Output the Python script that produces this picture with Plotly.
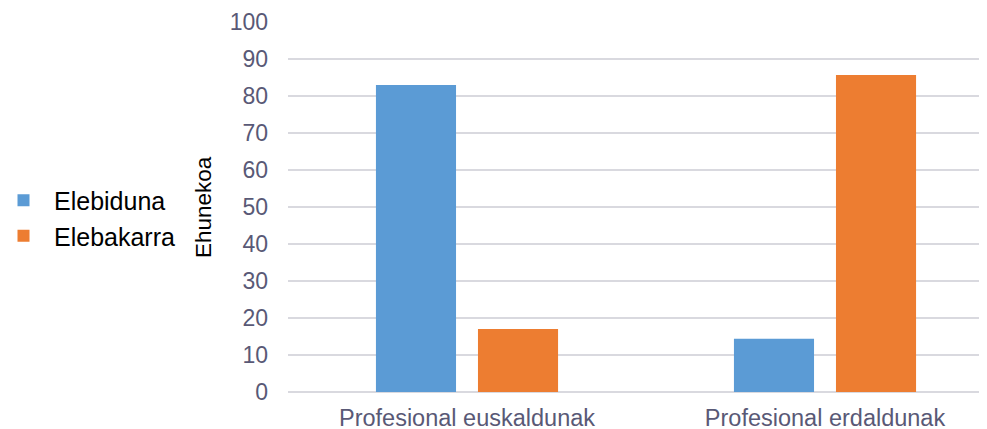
import plotly.graph_objects as go

categories = ["Profesional euskaldunak", "Profesional erdaldunak"]
series_names = ["Elebiduna", "Elebakarra"]
elebiduna = [83.0, 14.4]
elebakarra = [17.0, 85.7]
y_ticks = [0, 10, 20, 30, 40, 50, 60, 70, 80, 90, 100]
y_title = "Ehunekoa"

colors = ["#5B9BD5", "#ED7D31"]
tick_color = "#595976"
grid_color = "#D9D9DF"
FONT = "Liberation Sans, Arial, sans-serif"

fig = go.Figure()
for name, vals, col in zip(series_names, [elebiduna, elebakarra], colors):
    fig.add_trace(go.Bar(x=categories, y=vals, name=name, marker=dict(color=col, line=dict(width=0))))

# page body has an 8px offset
OFF = 8
W, H = 987 - OFF, 429 - OFF
L, R, T, B = 288 - OFF, 0, 22 - OFF, 37
plot_w = W - L - R
plot_h = H - T - B
cat_px = 358.0
x_end = -0.5 + plot_w / cat_px

fig.update_layout(
    width=W, height=H,
    margin=dict(l=L, r=R, t=T, b=B, pad=0, autoexpand=False),
    paper_bgcolor="white", plot_bgcolor="white",
    barmode="group", bargap=0.43, bargroupgap=0.215,
    font=dict(family=FONT, color=tick_color, size=23),
    showlegend=True,
    legend=dict(x=-(L + 15) / plot_w, y=0.47, xanchor="left", yanchor="middle",
                font=dict(family=FONT, size=25, color="black"),
                itemwidth=51, tracegroupgap=0, bgcolor="rgba(0,0,0,0)"),
    xaxis=dict(type="category", range=[-0.5, x_end], showgrid=False, zeroline=False,
               showline=False, ticks="", tickfont=dict(size=23.5, color=tick_color),
               ticklabelstandoff=9, automargin=False),
    yaxis=dict(range=[0, 100], tickvals=y_ticks, showgrid=True, gridcolor=grid_color,
               gridwidth=1.5, zeroline=True, zerolinecolor=grid_color, zerolinewidth=1.5,
               showline=False, ticks="", tickfont=dict(size=23, color=tick_color),
               ticklabelstandoff=19, automargin=False),
    annotations=[dict(text=y_title, textangle=-90, xref="paper", yref="paper",
                      x=(203 - 288) / plot_w, y=0.5, xanchor="center", yanchor="middle",
                      showarrow=False, font=dict(family=FONT, size=22.5, color="black"))],
)

fig.write_html("out.html")
